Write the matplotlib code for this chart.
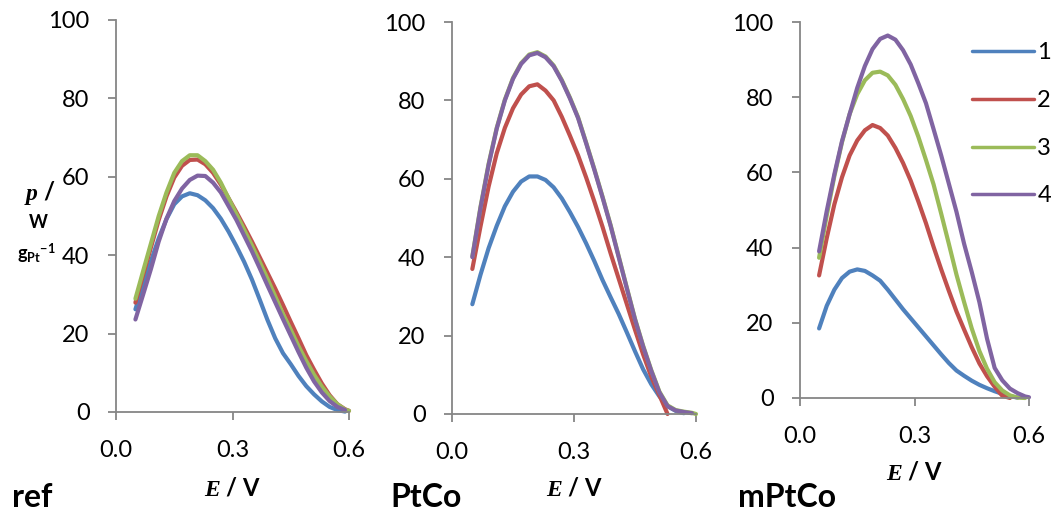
import matplotlib.pyplot as plt
from matplotlib.ticker import FormatStrFormatter

plt.rcParams['font.family'] = ['Lato', 'DejaVu Sans']
plt.rcParams['mathtext.fontset'] = 'custom'
plt.rcParams['mathtext.it'] = 'Liberation Serif:italic:bold'
plt.rcParams['mathtext.bf'] = 'Lato:bold'
plt.rcParams['mathtext.rm'] = 'Lato'

# ---- data ----
series_names = ['1', '2', '3', '4']
colors = ['#4F81BD', '#C0504D', '#9BBB59', '#8064A2']
panel_names = ['ref', 'PtCo', 'mPtCo']

E_grid = [0.05, 0.07, 0.09, 0.11, 0.13, 0.15, 0.17, 0.19, 0.21, 0.23, 0.25, 0.27,
          0.29, 0.31, 0.33, 0.35, 0.37, 0.39, 0.41, 0.43, 0.45, 0.47, 0.49, 0.51,
          0.53, 0.55, 0.57, 0.59, 0.6]

# ref
ref_1 = [26.2, 32.5, 38.5, 44.3, 49.2, 53, 55, 55.8, 55.3, 54, 52, 49.3, 46, 42.3,
         38.3, 33.8, 28.7, 23.5, 18.8, 15, 12.2, 9.2, 6.6, 4.5, 2.7, 1.3, 0.5, 0.1, None]
ref_2 = [27.9, 35, 42, 49, 55, 59.8, 62.8, 64.3, 64.4, 63.2, 61, 58, 54.5, 51,
         47.3, 43.5, 39.5, 35.5, 31.5, 27.3, 23, 18.8, 14.5, 10.8, 7.3, 4.3, 2, 0.7, 0.3]
ref_3 = [28.9, 36, 43, 50, 56, 61, 64, 65.5, 65.5, 64, 61.8, 58.5, 54.5, 50.5,
         46.5, 42.5, 38.3, 34, 29.5, 25, 21, 16.8, 13, 9.5, 6.5, 4, 2, 0.6, 0.3]
ref_4 = [23.6, 30, 36.5, 43.5, 49.3, 53.8, 57, 59.2, 60.3, 60.2, 58.5, 56, 52.5, 49,
         45, 41, 36.7, 32.3, 28, 23.7, 19.5, 15.3, 11.3, 7.8, 5, 2.8, 1.3, 0.5, None]

# PtCo
ptco_1 = [28, 35.5, 42.3, 48, 53, 56.7, 59.3, 60.6, 60.6, 59.7, 57.8, 55, 51.5, 47.7,
          43.5, 39, 34.2, 29.8, 25.5, 20.8, 16, 11.4, 7.6, 4.5, 2, 0.8, 0.2, None, None]
ptco_2 = [37, 47.8, 58, 66.5, 73, 78, 81.5, 83.6, 84.1, 82.5, 80, 75.8, 71, 66,
          60.3, 54.2, 47.8, 41, 34.5, 28, 21.5, 15.2, 9.5, 4.8, 0, None, None, None, None]
ptco_3 = [40.2, 52.8, 63.8, 73, 80.2, 85.7, 89.5, 91.7, 92.3, 91.2, 88.9, 85.2, 80.7, 75.7,
          69.2, 62.5, 55.5, 48.2, 40.2, 32.2, 24.3, 17.4, 11.2, 5.7, 2.2, 1, 0.6, 0.3, 0]
ptco_4 = [40, 52.5, 63.5, 72.8, 80, 85.5, 89.3, 91.5, 92.1, 91, 88.7, 85, 80.5, 75.5,
          69, 62.3, 55.3, 48, 40, 32, 24.1, 17.2, 11, 5.5, 2, 0.9, 0.5, 0.2, None]

# mPtCo
mptco_1 = [18.5, 24.5, 28.8, 31.9, 33.6, 34.2, 33.8, 32.6, 31.2, 28.8, 26.2, 23.6, 21.2, 18.8,
           16.4, 14, 11.6, 9.3, 7.3, 5.9, 4.6, 3.5, 2.6, 1.8, 1.1, 0.5, 0.1, None, None]
mptco_2 = [32.6, 42.5, 51.5, 58.7, 64.5, 68.5, 71.2, 72.6, 71.8, 69.8, 66.5, 62.5, 57.8, 52.3,
           46.5, 40.2, 34.2, 28.5, 23, 18.2, 13.5, 9.2, 5.8, 3, 0.6, 0, None, None, None]
mptco_3 = [37.3, 48.5, 59, 68, 75.5, 80.8, 84.5, 86.5, 86.8, 85.8, 83.3, 79.5, 75, 69.5,
           63.3, 56.8, 49, 41, 32.8, 25.5, 18.5, 12.5, 7.8, 4.2, 2, 0.7, 0.1, 0, None]
mptco_4 = [39, 49.7, 59.5, 68.3, 75.5, 82.5, 88.3, 92.8, 95.5, 96.4, 95.3, 92.5, 88.7, 83.7,
           78.4, 71.5, 64.5, 57, 49.5, 41, 33.5, 25.5, 15.8, 8, 4.7, 2.5, 1.3, 0.4, 0.2]

panels = [
    [ref_1, ref_2, ref_3, ref_4],
    [ptco_1, ptco_2, ptco_3, ptco_4],
    [mptco_1, mptco_2, mptco_3, mptco_4],
]

# axes rectangles in figure fractions (left, bottom, width, height)
W, H = 1057, 513
rects = [
    (116 / W, (H - 412) / H, 233 / W, 392 / H),
    (452 / W, (H - 414) / H, 244 / W, 392 / H),
    (800 / W, (H - 398) / H, 229 / W, 376 / H),
]
axis_grey = '#868686'

fig = plt.figure(figsize=(W / 100, H / 100), dpi=100)

axes = []
for ys, rect in zip(panels, rects):
    ax = fig.add_axes(rect)
    for y, c, name in zip(ys, colors, series_names):
        pts = [(e, v) for e, v in zip(E_grid, y) if v is not None]
        ax.plot([p[0] for p in pts], [p[1] for p in pts], color=c, lw=3.0,
                label=name, clip_on=False, solid_capstyle='round',
                solid_joinstyle='round')
    ax.set_xlim(0, 0.6)
    ax.set_ylim(0, 100)
    ax.set_xticks([0, 0.3, 0.6])
    ax.set_yticks([0, 20, 40, 60, 80, 100])
    ax.xaxis.set_major_formatter(FormatStrFormatter('%.1f'))
    for s in ['top', 'right']:
        ax.spines[s].set_visible(False)
    for s in ['left', 'bottom']:
        ax.spines[s].set_color(axis_grey)
        ax.spines[s].set_linewidth(1.3)
    ax.tick_params(axis='both', direction='out', length=6, width=1.3,
                   color=axis_grey, labelsize=17, labelcolor='black')
    ax.tick_params(axis='x', pad=14)
    ax.tick_params(axis='y', pad=13)
    ax.patch.set_alpha(0)
    axes.append(ax)

# x labels
for x, y in [(232, 488), (574, 488), (914, 472)]:
    fig.text(x / W, 1 - y / H, r'$\mathit{E}$ / V', ha='center', va='center',
             fontsize=17, fontweight='bold')

# panel names
for x, name in zip([12, 390, 738], panel_names):
    fig.text(x / W, 1 - 507 / H, name, ha='left', va='baseline',
             fontsize=23, fontweight='bold')

# y label of first panel
fig.text(40 / W, 1 - 193 / H, r'$\mathit{p}$ /', ha='center', va='center',
         fontsize=17, fontweight='bold')
fig.text(38 / W, 1 - 223 / H, 'W', ha='center', va='center',
         fontsize=13, fontweight='bold')
fig.text(36 / W, 1 - 253 / H, r'$\mathbf{g}_{\mathbf{Pt}}{}^{\mathbf{-1}}$',
         ha='center', va='center', fontsize=13)

# legend
leg = axes[2].legend(loc='upper left', bbox_to_anchor=(963 / W, 1 - 33 / H),
                     bbox_transform=fig.transFigure, frameon=False,
                     fontsize=17, handlelength=2.6, handletextpad=0.15,
                     labelspacing=1.13, borderaxespad=0)
for line in leg.get_lines():
    line.set_linewidth(2.5)

fig.savefig('out.png', dpi=100)
